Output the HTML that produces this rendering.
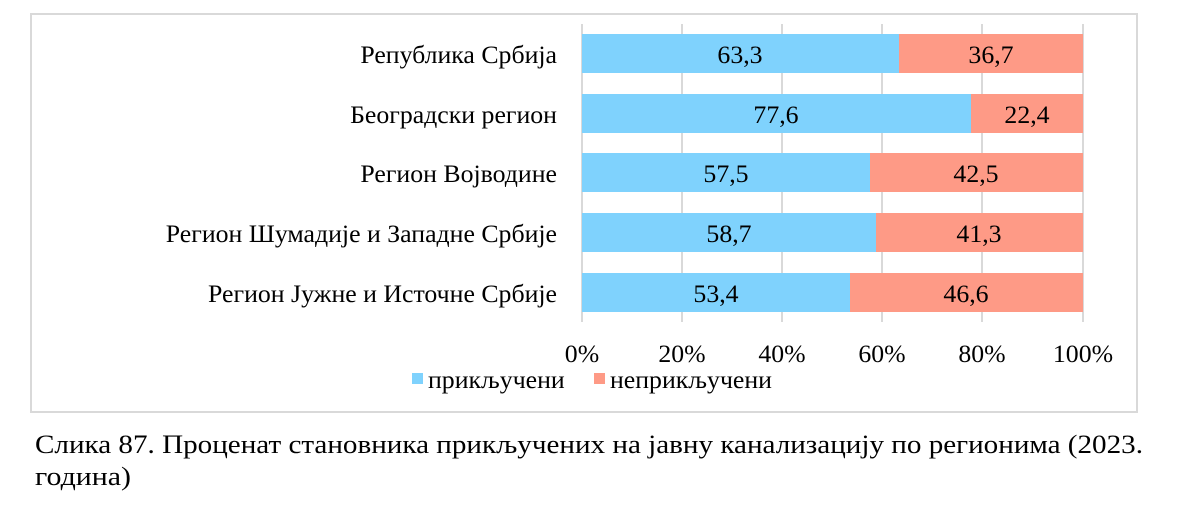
<!DOCTYPE html>
<html><head><meta charset="utf-8"><style>
body{margin:0;background:#fff;width:1187px;height:517px;overflow:hidden}
svg{display:block}
text{font-family:"Liberation Serif","DejaVu Serif",serif;fill:#000}
</style></head><body>
<svg width="1187" height="517" viewBox="0 0 1187 517">
<rect x="31" y="14" width="1106" height="398" fill="#fff" stroke="#d9d9d9" stroke-width="2"/>
<g stroke="#d9d9d9" stroke-width="2">
<line x1="582" y1="24" x2="582" y2="322"/><line x1="682" y1="24" x2="682" y2="322"/>
<line x1="782" y1="24" x2="782" y2="322"/><line x1="882" y1="24" x2="882" y2="322"/>
<line x1="982" y1="24" x2="982" y2="322"/><line x1="1083" y1="24" x2="1083" y2="322"/>
</g>
<g font-size="25.8">
<rect x="582" y="34" width="317" height="39" fill="#7fd2fd"/><rect x="899" y="34" width="184" height="39" fill="#fe9a86"/>
<text x="740" y="63" text-anchor="middle">63,3</text><text x="991" y="63" text-anchor="middle">36,7</text>
<text x="557" y="63" text-anchor="end">Република Србија</text>
<rect x="582" y="94" width="389" height="39" fill="#7fd2fd"/><rect x="971" y="94" width="112" height="39" fill="#fe9a86"/>
<text x="776" y="123" text-anchor="middle">77,6</text><text x="1027" y="123" text-anchor="middle">22,4</text>
<text x="557" y="123" text-anchor="end">Београдски регион</text>
<rect x="582" y="153" width="288" height="39" fill="#7fd2fd"/><rect x="870" y="153" width="213" height="39" fill="#fe9a86"/>
<text x="726" y="182" text-anchor="middle">57,5</text><text x="976" y="182" text-anchor="middle">42,5</text>
<text x="557" y="182" text-anchor="end">Регион Војводине</text>
<rect x="582" y="213" width="294" height="39" fill="#7fd2fd"/><rect x="876" y="213" width="207" height="39" fill="#fe9a86"/>
<text x="729" y="242" text-anchor="middle">58,7</text><text x="979" y="242" text-anchor="middle">41,3</text>
<text x="557" y="242" text-anchor="end">Регион Шумадије и Западне Србије</text>
<rect x="582" y="273" width="268" height="39" fill="#7fd2fd"/><rect x="850" y="273" width="233" height="39" fill="#fe9a86"/>
<text x="716" y="302" text-anchor="middle">53,4</text><text x="966" y="302" text-anchor="middle">46,6</text>
<text x="557" y="302" text-anchor="end">Регион Јужне и Источне Србије</text>
<text x="582" y="362" text-anchor="middle">0%</text><text x="682" y="362" text-anchor="middle">20%</text>
<text x="782" y="362" text-anchor="middle">40%</text><text x="882" y="362" text-anchor="middle">60%</text>
<text x="982" y="362" text-anchor="middle">80%</text><text x="1083" y="362" text-anchor="middle">100%</text>
<rect x="412" y="373" width="11" height="11" fill="#7fd2fd"/><text x="428" y="388">прикључени</text>
<rect x="594" y="373" width="11" height="11" fill="#fe9a86"/><text x="610" y="388">неприкључени</text>
<text x="35" y="453" font-size="26" textLength="1108" lengthAdjust="spacingAndGlyphs">Слика 87. Проценат становника прикључених на јавну канализацију по регионима (2023.</text>
<text x="35" y="485" font-size="26" textLength="96" lengthAdjust="spacingAndGlyphs">година)</text>
</g>
</svg>
</body></html>
